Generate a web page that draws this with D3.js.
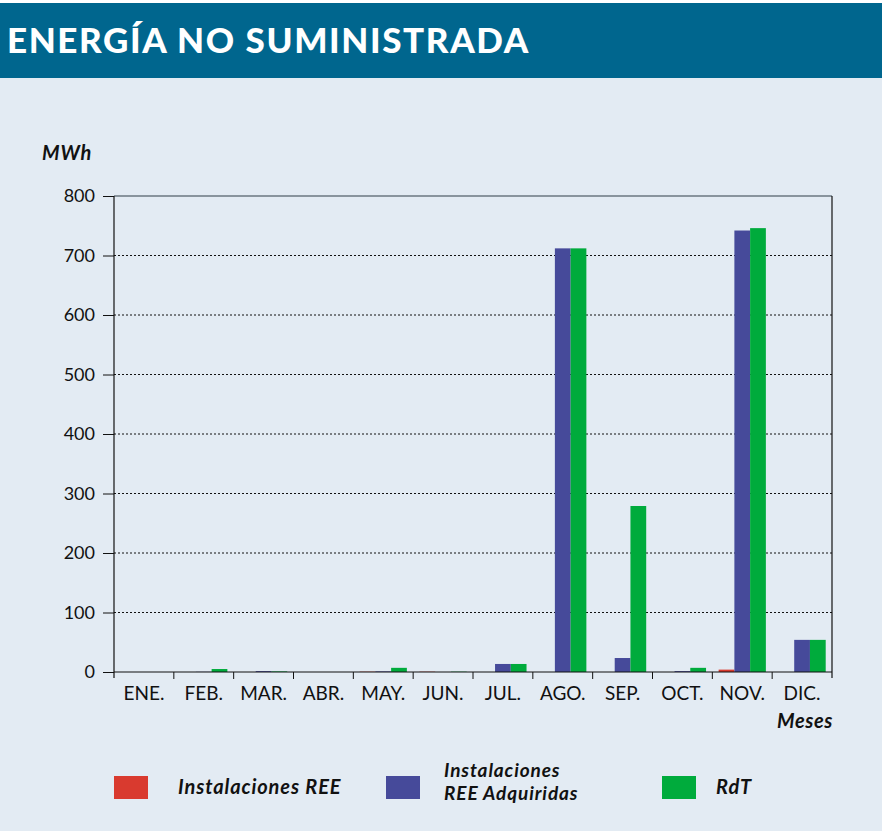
<!DOCTYPE html>
<html>
<head>
<meta charset="utf-8">
<script src="https://cdn.jsdelivr.net/npm/d3@7"></script>
<style>
  html, body { margin: 0; padding: 0; background: #ffffff; }
  svg { display: block; }
</style>
</head>
<body>
<div id="chart"></div>
<script>
// Data
var months = ["ENE.", "FEB.", "MAR.", "ABR.", "MAY.", "JUN.", "JUL.", "AGO.", "SEP.", "OCT.", "NOV.", "DIC."];
var seriesNames = ["Instalaciones REE", "Instalaciones REE Adquiridas", "RdT"];
var instalacionesREE = [0, 0, 0, 0, 0.5, 0.5, 0, 0, 0, 0, 4, 0];
var reeAdquiridas = [0, 0.3, 1.5, 0, 1, 0, 13.5, 712, 23.5, 1.5, 742, 54];
var rdt = [0, 5, 1, 0, 7, 0.5, 13.5, 712, 279, 7, 746, 54];
var yTicks = [0, 100, 200, 300, 400, 500, 600, 700, 800];
var colors = ["#d93a2f", "#464a9a", "#00ab3c"];

var W = 882, H = 831;
var font = "Lato, 'Open Sans', sans-serif";
var svg = d3.select("#chart")
  .append("svg")
  .attr("width", W)
  .attr("height", H);

// background + title band
svg.append("rect").attr("x", 0).attr("y", 3).attr("width", W).attr("height", H - 3).attr("fill", "#e3ebf3");
svg.append("rect").attr("x", 0).attr("y", 3).attr("width", W).attr("height", 75).attr("fill", "#00668e");
svg.append("text")
  .attr("x", 7).attr("y", 53)
  .attr("fill", "#ffffff")
  .style("font-family", font)
  .style("font-weight", "900")
  .style("font-size", "35px")
  .style("letter-spacing", "1.6px")
  .text("ENERGÍA NO SUMINISTRADA");

var margin = { left: 114, right: 50, top: 196, bottom: 159 };
var plotW = W - margin.left - margin.right;
var plotH = H - margin.top - margin.bottom;

var g = svg.append("g").attr("transform", "translate(" + margin.left + "," + margin.top + ")");

var x = d3.scaleBand().domain(months).range([0, plotW]).paddingInner(0).paddingOuter(0);
var x1 = d3.scaleBand().domain(d3.range(3)).range([0, x.bandwidth()]).paddingInner(0).paddingOuter(0.4);
var y = d3.scaleLinear().domain([0, 800]).range([plotH, 0]);

// dotted gridlines
g.selectAll(".grid")
  .data(yTicks.filter(function(d) { return d > 0 && d < 800; }))
  .enter().append("line")
  .attr("x1", 0).attr("x2", plotW)
  .attr("y1", function(d) { return y(d); })
  .attr("y2", function(d) { return y(d); })
  .attr("stroke", "#111")
  .attr("stroke-width", 1)
  .attr("stroke-dasharray", "2,2");

// bars
var table = months.map(function(m, i) {
  return { month: m, values: [instalacionesREE[i], reeAdquiridas[i], rdt[i]] };
});

var groups = g.selectAll(".month")
  .data(table)
  .enter().append("g")
  .attr("transform", function(d) { return "translate(" + x(d.month) + ",0)"; });

groups.selectAll("rect")
  .data(function(d) { return d.values.map(function(v, k) { return { k: k, v: v }; }); })
  .enter().append("rect")
  .attr("x", function(d) { return x1(d.k); })
  .attr("width", x1.bandwidth())
  .attr("y", function(d) { return y(d.v); })
  .attr("height", function(d) { return plotH - y(d.v); })
  .attr("fill", function(d) { return colors[d.k]; });

// frame: top and right
g.append("line").attr("x1", 0).attr("x2", plotW).attr("y1", 0).attr("y2", 0)
  .attr("stroke", "#6b7780").attr("stroke-width", 1.5);
g.append("line").attr("x1", plotW).attr("x2", plotW).attr("y1", 0).attr("y2", plotH + 6)
  .attr("stroke", "#111").attr("stroke-width", 1.2);

// y axis
var yAxis = g.append("g")
  .call(d3.axisLeft(y).tickValues(yTicks).tickSize(11).tickPadding(8));
yAxis.select(".domain").remove();
yAxis.append("line").attr("x1", 0).attr("x2", 0).attr("y1", 0).attr("y2", plotH + 6)
  .attr("stroke", "#111").attr("stroke-width", 1.2);
yAxis.selectAll(".tick line").attr("stroke", "#111");
yAxis.selectAll("text")
  .attr("fill", "#111")
  .style("font-family", font)
  .style("font-size", "18px");

// x axis with ticks at band boundaries
var xAxis = g.append("g").attr("transform", "translate(0," + plotH + ")");
xAxis.append("line").attr("x1", 0).attr("x2", plotW).attr("y1", 0).attr("y2", 0)
  .attr("stroke", "#111").attr("stroke-width", 1.2);
xAxis.selectAll(".bt")
  .data(months.slice(1))
  .enter().append("line")
  .attr("x1", function(d) { return x(d); })
  .attr("x2", function(d) { return x(d); })
  .attr("y1", 0).attr("y2", 7)
  .attr("stroke", "#111");
xAxis.selectAll(".lbl")
  .data(months)
  .enter().append("text")
  .attr("x", function(d) { return x(d) + x.bandwidth() / 2; })
  .attr("y", 28)
  .attr("text-anchor", "middle")
  .attr("fill", "#111")
  .style("font-family", font)
  .style("font-size", "19px")
  .text(function(d) { return d; });

// axis titles
svg.append("text").attr("x", 42).attr("y", 160)
  .attr("fill", "#111")
  .style("font-family", font)
  .style("font-weight", "bold").style("font-style", "italic")
  .style("font-size", "20px")
  .style("letter-spacing", "0.8px")
  .text("MWh");
svg.append("text").attr("x", 833).attr("y", 728)
  .attr("text-anchor", "end")
  .attr("fill", "#111")
  .style("font-family", font)
  .style("font-weight", "bold").style("font-style", "italic")
  .style("font-size", "20px")
  .style("letter-spacing", "0.6px")
  .text("Meses");

// legend
var legendX = [114, 386, 662];
var textX = [64, 58, 54];
var legendLabels = [["Instalaciones REE"], ["Instalaciones", "REE Adquiridas"], ["RdT"]];
var legend = svg.selectAll(".legend")
  .data(seriesNames)
  .enter().append("g")
  .attr("transform", function(d, i) { return "translate(" + legendX[i] + ",776)"; });
legend.append("rect")
  .attr("width", 34).attr("height", 23)
  .attr("fill", function(d, i) { return colors[i]; });
legend.each(function(d, i) {
  var lines = legendLabels[i];
  var t = d3.select(this).append("text")
    .attr("fill", "#111")
    .style("font-family", font)
    .style("font-weight", "bold").style("font-style", "italic")
    .style("font-size", lines.length === 1 ? "20px" : "19px")
    .style("letter-spacing", "0.9px");
  lines.forEach(function(l, j) {
    t.append("tspan")
      .attr("x", textX[i])
      .attr("y", lines.length === 1 ? 18 : 1 + j * 23)
      .text(l);
  });
});
</script>
</body>
</html>
